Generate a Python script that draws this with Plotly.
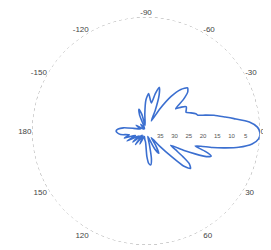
import plotly.graph_objects as go

# Radiation pattern (angle in degrees, level in dB)
theta_deg = [-180, -176, -172, -168, -160, -150, -140, -128, -118, -112, -108, -104, -99,
             -94, -90, -86, -82, -79, -76, -73, -70, -66, -62, -58, -54, -50, -46, -43,
             -40, -37, -34, -31, -28, -25, -22, -19, -17, -15, -13, -10, -8, -5, -2,
             1, 4, 7, 10, 12, 14, 15.5, 17, 19, 21, 23, 25, 27, 30, 33, 35, 37, 40,
             43, 45, 48, 52, 56, 60, 64, 68, 72, 76, 79, 82, 85, 88, 92, 98, 106,
             115, 122, 128, 134, 140, 146, 152, 157, 162, 167, 172, 176, 180]
level_db = [-29.5, -30.2, -32, -35.5, -38, -36, -39, -37, -39, -34, -32, -34, -38,
            -34, -29, -26.8, -29, -30, -26.5, -24, -26.5, -32, -36, -31, -25, -21, -19, -20,
            -23, -27, -25, -23.5, -24, -24.5, -23, -21.5, -21, -18.5, -15.5, -11.8, -8.8, -3.6, -0.9,
            0, -0.4, -2.5, -7, -11.5, -16, -20, -22, -18, -15.5, -17, -21, -25, -30, -27, -24, -21, -19.6,
            -22, -27, -33, -37, -34, -31, -33, -37, -38, -35, -30, -28, -28.5, -31, -36, -37, -38,
            -35, -38, -34, -38, -34, -37, -32.5, -36, -32, -34, -31, -30, -29.5]

angle_ticks = [0, 30, 60, 90, 120, 150, 180, 210, 240, 270, 300, 330]
angle_labels = ["0", "30", "60", "", "120", "150", "180", "-150", "-120", "-90", "-60", "-30"]
radial_ticks = [-35, -30, -25, -20, -15, -10, -5]
radial_labels = ["35", "30", "25", "20", "15", "10", "5"]
r_min, r_max = -40, 0

fig = go.Figure()
# dotted outer frame circle
fig.add_trace(go.Scatterpolar(
    theta=list(range(0, 361, 2)), r=[r_max] * 181, mode="lines",
    line=dict(color="#9a9a9a", width=1, dash="dot"), hoverinfo="skip"))
fig.add_trace(go.Scatterpolar(
    theta=theta_deg, r=level_db, mode="lines",
    line=dict(color="#3b6fd0", width=1.6, shape="spline", smoothing=0.6),
    hoverinfo="skip"))

fig.update_layout(
    width=271, height=250, margin=dict(l=0, r=0, t=0, b=0),
    paper_bgcolor="white", showlegend=False,
    polar=dict(
        domain=dict(x=[24/271, 252/271], y=[13/250, 241/250]),
        bgcolor="white",
        angularaxis=dict(rotation=0, direction="clockwise",
                         tickvals=angle_ticks, ticktext=angle_labels,
                         showgrid=False, ticks="", showline=False,
                         tickfont=dict(family="Liberation Sans", size=8, color="#444")),
        radialaxis=dict(range=[r_min, r_max], tickvals=radial_ticks, ticktext=radial_labels,
                        showgrid=False, showline=False, ticks="", angle=0, tickangle=0,
                        tickfont=dict(family="Liberation Sans", size=6, color="#555")),
    ),
)
fig.write_html("out.html")
